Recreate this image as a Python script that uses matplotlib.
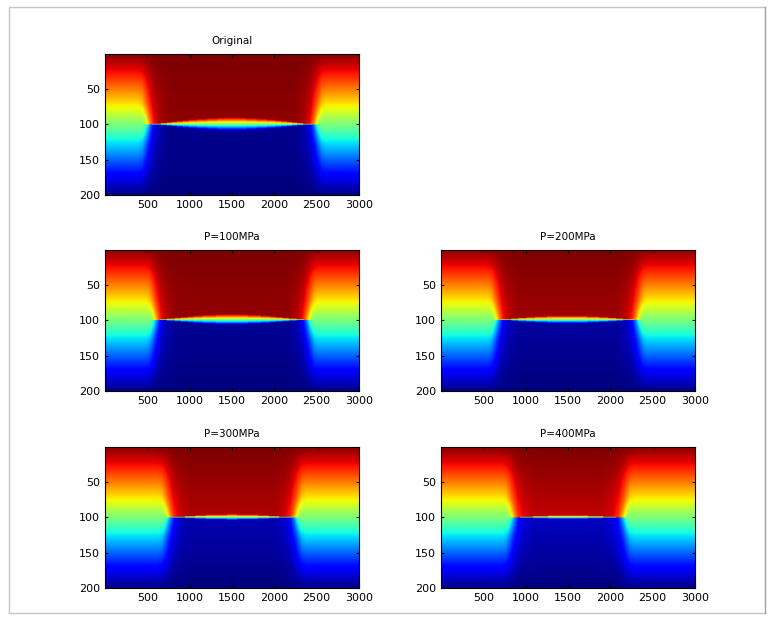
import numpy as np
import matplotlib
matplotlib.use("Agg")
import matplotlib.pyplot as plt
from matplotlib.lines import Line2D

W, H = 777, 617

titles = ["Original", "P=100MPa", "P=200MPa", "P=300MPa", "P=400MPa"]
x_ticks = [500, 1000, 1500, 2000, 2500, 3000]
y_ticks = [50, 100, 150, 200]

# Crack tip positions (x axis units)
crack_start = [505, 590, 660, 745, 840]
crack_end = [2495, 2407, 2325, 2260, 2165]
# Darkening of the interior next to the crack, per panel
interior_drop = [0.015, 0.02, 0.03, 0.045, 0.06]
# Half-length of each stepped layer of the crack opening, per panel
lens_orig = [950, 840, 770, 710, 650, 580, 510, 410, 290, 170]
lens_100 = [850, 767, 673, 602, 519, 448, 342, 189]
lens_200 = [790, 660, 578, 484, 378, 236]
lens_300 = [755, 555, 437, 307, 59]
lens_400 = [566, 413, 236]
lens_steps = [lens_orig, lens_100, lens_200, lens_300, lens_400]
# Far-field colour value against depth, upper half
far_depth = [0, 28, 52, 75, 100]
far_value = [1.0, 0.89, 0.77, 0.65, 0.5]
# Blend from the far field into the interior, across the crack tip
tip_offset = [-70, -30, 0, 30, 70, 130, 230]
tip_blend = [0, 0.07, 0.30, 0.55, 0.80, 0.93, 1]

# Axes boxes in pixels: left, top
boxes = [(105, 54), (105, 250), (441, 250), (105, 447), (441, 447)]
AW, AH = 254, 141


def field(i):
    x = np.arange(1, 3001)[None, :]
    y = np.arange(1, 201)[:, None]
    a, b = crack_start[i], crack_end[i]
    upper_y = np.minimum(y, 201 - y)
    lift = np.minimum(1, (100 - upper_y) / 30)
    # the transition widens just above the crack plane, then stays vertical
    s = (np.minimum(x - a, b - x) + 30 * lift) / (1 + 0.3 * lift)
    t = np.interp(s, tip_offset, tip_blend)
    far = np.interp(upper_y, far_depth, far_value)
    inner = 1 - interior_drop[i] * upper_y / 100
    v = far * (1 - t) + inner * t
    v = np.where(y <= 100, v, 1 - v)
    c = 0.5 * (a + b)
    for k, half in enumerate(lens_steps[i], start=1):
        xs = np.arange(int(c - half), int(c + half))
        for d in range(-(k - 1), k):
            v[100 + d - 1, xs - 1] = 0.5 - d / (2 * k)
    return v


fig = plt.figure(figsize=(W / 100, H / 100), dpi=100, facecolor="white")
plt.rcParams["font.family"] = "DejaVu Sans"

for i, (l, top) in enumerate(boxes):
    ax = fig.add_axes([l / W, 1 - (top + AH) / H, AW / W, AH / H])
    ax.imshow(field(i), cmap="jet", vmin=0, vmax=1, aspect="auto",
              extent=(0.5, 3000.5, 200.5, 0.5), interpolation="antialiased")
    ax.set_xlim(1, 3000)
    ax.set_ylim(200, 1)
    ax.set_xticks(x_ticks)
    ax.set_yticks(y_ticks)
    ax.tick_params(direction="in", length=2.5, width=0.8, top=True, right=True,
                   labelsize=8, pad=3.5)
    for sp in ax.spines.values():
        sp.set_linewidth(0.8)
    ax.set_title(titles[i], fontsize=7.5, pad=7)

# Outer window frame
fl, ft, fr, fb = 8.5 / W, 1 - 6.5 / H, 764.5 / W, 1 - 612.5 / H
fig.add_artist(Line2D([fl, fl, fr], [fb, ft, ft], color="#c4c4c4", lw=1))
fig.add_artist(Line2D([fl, fr], [fb, fb], color="#c4c4c4", lw=1))
fig.add_artist(Line2D([fr, fr], [fb, ft], color="#a0a0a0", lw=1))

fig.savefig("out.png", dpi=100)
